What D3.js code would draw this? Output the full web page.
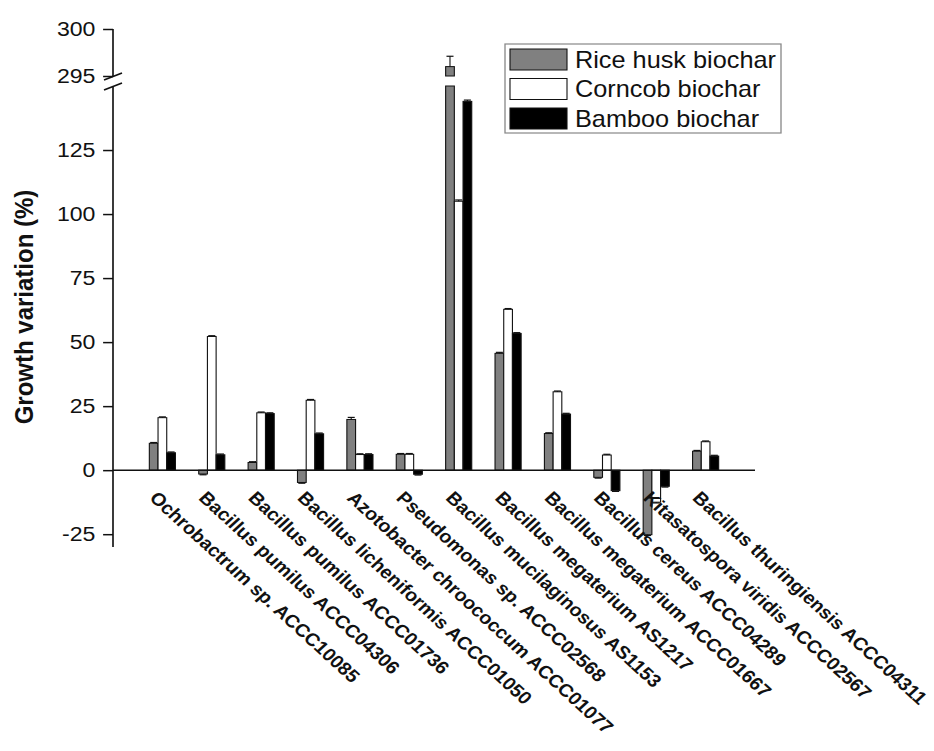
<!DOCTYPE html>
<html><head><meta charset="utf-8">
<script src="https://cdn.jsdelivr.net/npm/d3@7"></script>
<style>body{margin:0;background:#fff}svg{display:block}</style>
</head><body><svg id="c" width="934" height="751"></svg>
<script>
const categories = ["Ochrobactrum sp. ACCC10085","Bacillus pumilus ACCC04306","Bacillus pumilus ACCC01736","Bacillus licheniformis ACCC01050","Azotobacter chroococcum ACCC01077","Pseudomonas sp. ACCC02568","Bacillus mucilaginosus AS1153","Bacillus megaterium AS1217","Bacillus megaterium ACCC01667","Bacillus cereus ACCC04289","Kitasatospora viridis ACCC02567","Bacillus thuringiensis ACCC04311"];
const seriesNames = ["Rice husk biochar","Corncob biochar","Bamboo biochar"];
const riceHusk = [10.5,-1.5,3,-4.8,19.8,6.2,296,45.6,14.3,-2.8,-25.2,7.4];
const corncob  = [20.5,52.2,22.4,27.3,6.1,6.2,105,62.8,30.6,5.9,-12.5,11.1];
const bamboo   = [6.8,6,22.1,14.2,6.1,-1.6,144,53.4,21.9,-8,-6.3,5.5];
const riceErr  = [0.3,0.3,0.3,0.3,0.8,0.3,1.1,0.4,0.3,0.3,0.3,0.3];
const cornErr  = [0.3,0.3,0.3,0.3,0.3,0.3,0.5,0.3,0.3,0.3,0.3,0.3];
const bambooErr= [0.3,0.3,0.3,0.3,0.3,0.3,0.5,0.3,0.3,0.3,0.3,0.3];
const lowTicks = [-25,0,25,50,75,100,125];
const highTicks = [295,300];
const lowDomain = [-30,150];
const highDomain = [295,300];

const colors = ["#808080","#ffffff","#000000"];
const S = 1.1; // horizontal stretch of the original figure
const FONT = "Liberation Sans, Arial, sans-serif";
const svg = d3.select("#c");
const root = svg.append("g").attr("transform", `scale(${S},1)`);
const x = d3.scaleLinear().domain([0,13]).range([113/S,755/S]);
const yLow = d3.scaleLinear().domain(lowDomain).range([547,86]);
const yHigh = d3.scaleLinear().domain(highDomain).range([76,29]);
const bw = 8.7/S;
const series = [riceHusk, corncob, bamboo];
const errs = [riceErr, cornErr, bambooErr];

const gBars = root.append("g");
series.forEach((vals, s) => {
  vals.forEach((v, i) => {
    const x0 = x(i+1) + (s-1.5)*bw;
    const segs = [];
    if (v > highDomain[0]) {
      segs.push([yLow(lowDomain[1]), yLow(0)]);
      segs.push([yHigh(v), yHigh(highDomain[0])]);
    } else {
      segs.push([yLow(Math.max(v,0)), yLow(Math.min(v,0))]);
    }
    segs.forEach(sg => {
      gBars.append("rect").attr("x", x0).attr("y", sg[0]).attr("width", bw).attr("height", sg[1]-sg[0])
        .attr("fill", colors[s]).attr("stroke", "#111").attr("stroke-width", 1);
    });
    const e = errs[s][i];
    const yf = v > highDomain[0] ? yHigh : yLow;
    const ya = yf(v), yb = yf(v + (v >= 0 ? e : -e));
    const cx = x0 + bw/2;
    gBars.append("line").attr("x1", cx).attr("x2", cx).attr("y1", ya).attr("y2", yb).attr("stroke","#111").attr("stroke-width",1);
    gBars.append("line").attr("x1", cx-3.2).attr("x2", cx+3.2).attr("y1", yb).attr("y2", yb).attr("stroke","#111").attr("stroke-width",1.2);
  });
});

root.append("line").attr("x1", x(0)).attr("x2", x(13)).attr("y1", yLow(0)).attr("y2", yLow(0)).attr("stroke","#111").attr("stroke-width",1.5);

const axLow = root.append("g").attr("transform", `translate(${x(0)},0)`)
  .call(d3.axisLeft(yLow).tickValues(lowTicks).tickFormat(d => String(d)).tickSize(9).tickSizeOuter(0).tickPadding(7));
const axHigh = root.append("g").attr("transform", `translate(${x(0)},0)`)
  .call(d3.axisLeft(yHigh).tickValues(highTicks).tickFormat(d => String(d)).tickSize(9).tickSizeOuter(0).tickPadding(7));
[axLow, axHigh].forEach(a => {
  a.select(".domain").remove();
  a.selectAll("line").attr("stroke","#111").attr("stroke-width",1.5);
  a.selectAll("text").attr("font-family",FONT).attr("font-size",21).attr("fill","#111");
});
root.append("line").attr("x1",x(0)).attr("x2",x(0)).attr("y1",yHigh(300)).attr("y2",77).attr("stroke","#111").attr("stroke-width",1.5);
root.append("line").attr("x1",x(0)).attr("x2",x(0)).attr("y1",86).attr("y2",547).attr("stroke","#111").attr("stroke-width",1.5);
[[104,80,122,73],[104,90,122,83]].forEach(d => {
  root.append("line").attr("x1",d[0]/S).attr("y1",d[1]).attr("x2",d[2]/S).attr("y2",d[3]).attr("stroke","#111").attr("stroke-width",1.5);
});

root.append("text").attr("transform",`translate(${33/S},307) rotate(-90)`).attr("text-anchor","middle")
  .attr("font-family",FONT).attr("font-weight","bold").attr("font-size",24).attr("fill","#111")
  .text("Growth variation (%)");

categories.forEach((c, i) => {
  root.append("text").attr("transform", `translate(${x(i+1)-14/S},${499}) rotate(45)`)
    .attr("font-family",FONT).attr("font-weight","bold").attr("font-size",18).attr("fill","#111")
    .text(c);
});

const lg = root.append("g");
lg.append("rect").attr("x",505/S).attr("y",44).attr("width",276/S).attr("height",89).attr("fill","#fff").attr("stroke","#888").attr("stroke-width",1.2);
seriesNames.forEach((n, s) => {
  const yy = 49 + s*29.5;
  lg.append("rect").attr("x",510/S).attr("y",yy).attr("width",57/S).attr("height",21).attr("fill",colors[s]).attr("stroke","#111").attr("stroke-width",1);
  lg.append("text").attr("x",575/S).attr("y",yy+19).attr("font-family",FONT).attr("font-size",23).attr("fill","#111").text(n);
});
</script></body></html>
